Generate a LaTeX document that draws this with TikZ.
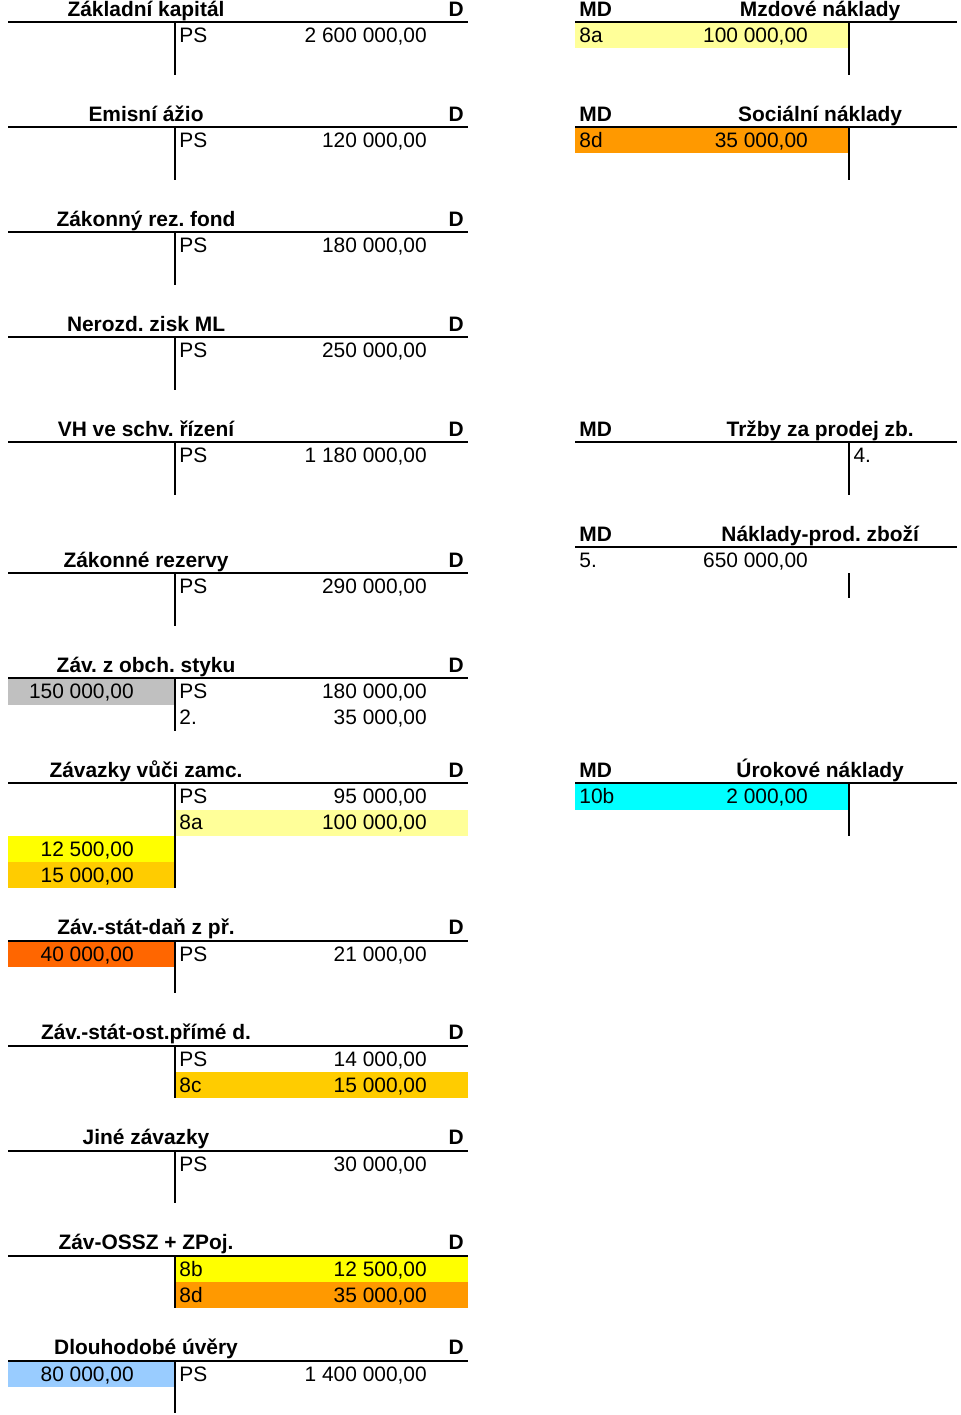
\documentclass[tikz,border=0pt]{standalone}
\usepackage{fontspec}
\setmainfont{Liberation Sans}
\usepackage{tikz}
\usetikzlibrary{positioning}

\definecolor{paleyellow}{HTML}{FFFF99}
\definecolor{cellorange}{HTML}{FF9900}
\definecolor{cellgray}{HTML}{C0C0C0}
\definecolor{cellyellow}{HTML}{FFFF00}
\definecolor{cellgold}{HTML}{FFCC00}
\definecolor{cellred}{HTML}{FF6600}
\definecolor{cellblue}{HTML}{99CCFF}
\definecolor{cellcyan}{HTML}{00FFFF}

\tikzset{
  every node/.style={inner sep=0pt, font=\fontsize{11.9}{14}\selectfont},
  acctitle/.style={anchor=base, font=\fontsize{11.9}{14}\selectfont\bfseries},
  accside/.style={font=\fontsize{11.9}{14}\selectfont\bfseries},
  tline/.style={line width=1.1pt},
}

\begin{document}
\frenchspacing
\begin{tikzpicture}[x=0.02cm, y=-0.525cm]
\useasboundingbox (0,0.162) rectangle (960,54.067);
% Coloured cells (x from / x to / row / colour)
\foreach \xa/\xb/\y/\col in {575/849/1/paleyellow, 575/849/5/cellorange, 8/175/26/cellgray,
  175/468/31/paleyellow, 8/175/32/cellyellow, 8/175/33/cellgold, 575/849/30/cellcyan,
  8/175/36/cellred, 175/468/41/cellgold, 175/468/48/cellyellow, 175/468/49/cellorange,
  8/175/52/cellblue} {
  \fill[\col] (\xa,\y) rectangle (\xb,\y+1);
}
% Left T-accounts (line row / title / depth of the vertical)
\foreach \y/\name/\len in {1/Základní kapitál/2, 5/Emisní ážio/2, 9/Zákonný rez. fond/2,
  13/Nerozd. zisk ML/2, 17/VH ve schv. řízení/2, 22/Zákonné rezervy/2, 26/Záv. z obch. styku/2,
  30/Závazky vůči zamc./4, 36/Záv.-stát-daň z př./2, 40/Záv.-stát-ost.přímé d./2,
  44/Jiné závazky/2, 48/Záv-OSSZ + ZPoj./2, 52/Dlouhodobé úvěry/2} {
  \node[acctitle] (lt-\y) at (146,\y-0.22) {\name};
  \node[accside, anchor=base east] (ld-\y) at (464,\y-0.22) {D};
  \draw[tline] (8,\y) -- (468,\y);
  \draw[tline] (175,\y) -- (175,\y+\len);
}
% Right T-accounts (line row / title / vertical from / to)
\foreach \y/\name/\a/\b in {1/Mzdové náklady/0/2, 5/Sociální náklady/0/2,
  17/Tržby za prodej zb./0/2, 21/Náklady-prod. zboží/1/1.95, 30/Úrokové náklady/0/2} {
  \node[acctitle] (rt-\y) at (820,\y-0.22) {\name};
  \node[accside, anchor=base west] (rmd-\y) at (579,\y-0.22) {MD};
  \draw[tline] (575,\y) -- (957,\y);
  \draw[tline] (849,\y+\a) -- (849,\y+\b);
}
% Credit side entries of the left accounts
\foreach \y/\lbl/\amt in {1/PS/{2 600 000,00}, 5/PS/{120 000,00}, 9/PS/{180 000,00},
  13/PS/{250 000,00}, 17/PS/{1 180 000,00}, 22/PS/{290 000,00}, 26/PS/{180 000,00},
  27/2./{35 000,00}, 30/PS/{95 000,00}, 31/8a/{100 000,00}, 36/PS/{21 000,00},
  40/PS/{14 000,00}, 41/8c/{15 000,00}, 44/PS/{30 000,00}, 48/8b/{12 500,00},
  49/8d/{35 000,00}, 52/PS/{1 400 000,00}} {
  \node[anchor=base west] (cl-\y) at (179,\y+0.78) {\lbl};
  \node[anchor=base east] (ca-\y) at (427,\y+0.78) {\amt};
}
% Debit side entries of the left accounts
\foreach \y/\amt in {26/{150 000,00}, 32/{12 500,00}, 33/{15 000,00}, 36/{40 000,00},
  52/{80 000,00}} {
  \node[anchor=base east] (da-\y) at (134,\y+0.78) {\amt};
}
% Debit side entries of the right accounts
\foreach \y/\lbl/\amt in {1/8a/{100 000,00}, 5/8d/{35 000,00}, 21/5./{650 000,00},
  30/10b/{2 000,00}} {
  \node[anchor=base west] (rl-\y) at (579,\y+0.78) {\lbl};
  \node[anchor=base east] (ra-\y) at (808,\y+0.78) {\amt};
}
\node[anchor=base west] (rc-17) at (853,17.78) {4.};
\end{tikzpicture}
\end{document}
